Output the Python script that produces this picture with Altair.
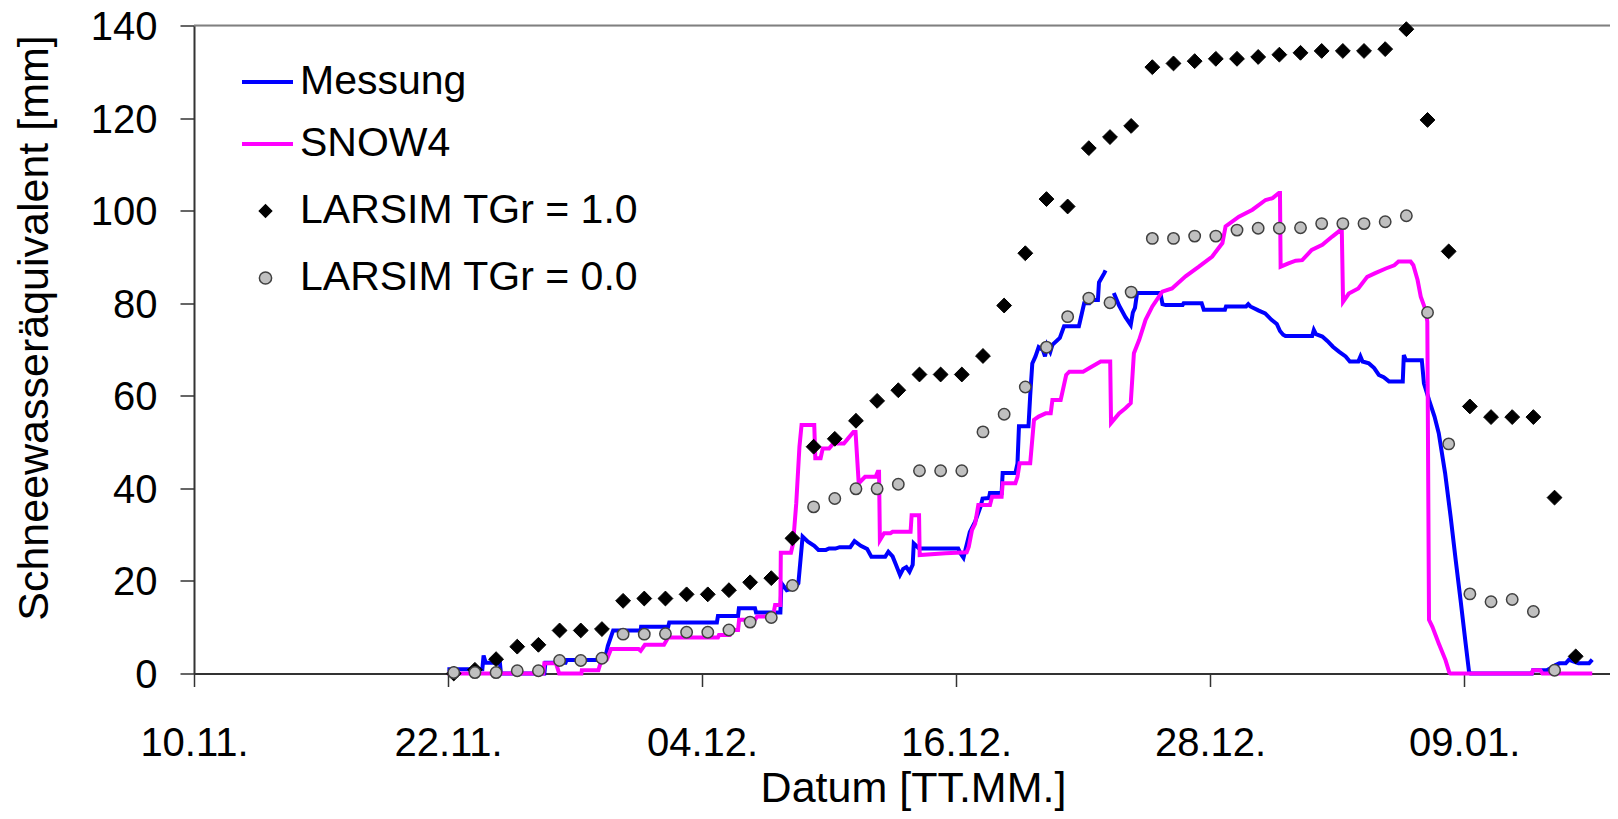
import altair as alt
import pandas as pd

BASE = pd.Timestamp("2002-11-10")

# LARSIM daily values (day index since 10.11.)
larsim10_days = list(range(12, 66))
larsim10_swe = [0.0, 0.8, 3.1, 5.8, 6.2, 9.3, 9.3, 9.6, 15.7, 16.2, 16.2, 17.1, 17.1, 18.0,
                19.7, 20.6, 29.2, 49.0, 50.7, 54.6, 58.9, 61.2, 64.6, 64.6, 64.6, 68.6, 79.5,
                90.8, 102.5, 100.9, 113.5, 115.9, 118.3, 131.0, 131.8, 132.3, 132.8, 132.8,
                133.2, 133.7, 134.1, 134.5, 134.5, 134.5, 134.9, 139.2, 119.6, 91.2, 57.7,
                55.4, 55.4, 55.4, 38.0, 3.7]
larsim00_days = list(range(12, 65))
larsim00_swe = [0.2, 0.2, 0.2, 0.6, 0.6, 2.8, 2.8, 3.3, 8.5, 8.5, 8.6, 8.9, 8.9, 9.4, 11.1,
                12.1, 19.0, 36.0, 37.8, 39.9, 39.9, 40.9, 43.8, 43.8, 43.8, 52.2, 56.0, 61.9,
                70.5, 77.1, 81.1, 80.1, 82.4, 94.0, 94.0, 94.5, 94.5, 95.8, 96.2, 96.2, 96.3,
                97.2, 97.2, 97.2, 97.6, 98.9, 78.0, 49.6, 17.2, 15.5, 16.0, 13.4, 0.7]
LARSIM_HOUR = 0.27

# Messung (two pieces, gap around 23.12.)
messung_a = [(11.97, 0.9), (13.62, 0.9), (13.68, 3.9), (13.78, 2.3), (14.45, 2.3), (14.5, 0.0),
             (16.55, 0.0), (16.6, 2.3), (17.55, 2.3), (17.6, 2.9), (19.4, 2.9), (19.55, 6.0),
             (19.8, 9.3), (21.1, 9.3), (21.12, 10.1), (22.4, 10.1), (22.45, 11.0), (24.7, 11.0),
             (24.75, 12.4), (25.7, 12.4), (25.74, 14.1), (26.5, 14.1), (26.55, 13.2), (27.7, 13.2),
             (27.75, 19.5), (28.0, 18.0), (28.4, 18.5), (28.55, 19.5), (28.75, 29.6), (29.0, 28.5),
             (29.3, 27.6), (29.5, 26.7), (29.85, 26.7), (30.0, 27.0), (30.3, 27.0), (30.5, 27.3),
             (31.0, 27.3), (31.2, 28.6), (31.5, 27.6), (31.8, 26.9), (32.0, 25.2), (32.65, 25.2),
             (32.8, 26.3), (33.0, 25.3), (33.15, 23.6), (33.35, 21.3), (33.5, 22.6), (33.65, 23.0),
             (33.8, 22.0), (33.95, 23.5), (34.0, 28.1), (34.25, 27.0), (36.1, 27.0), (36.2, 26.0),
             (36.35, 25.0), (36.45, 26.9), (36.65, 30.6), (36.9, 32.8), (37.15, 36.0), (37.25, 37.8),
             (37.55, 37.9), (37.6, 39.0), (38.15, 39.0), (38.2, 43.3), (38.8, 43.3), (38.9, 45.4),
             (38.97, 53.4), (39.42, 53.4), (39.5, 60.0), (39.6, 67.0), (39.75, 68.5), (39.9, 70.5),
             (40.1, 69.9), (40.2, 68.5), (40.3, 70.9), (40.45, 69.5), (40.55, 71.0), (40.9, 72.5),
             (41.1, 75.0), (41.8, 75.0), (41.95, 78.0), (42.05, 80.0), (42.3, 80.0), (42.4, 80.7),
             (42.7, 80.7), (42.75, 84.5), (43.0, 86.5), (43.06, 87.1)]
messung_b = [(43.45, 82.2), (43.7, 79.5), (44.0, 77.0), (44.25, 75.3), (44.35, 78.0), (44.45, 79.0),
             (44.55, 82.2), (45.65, 82.2), (45.75, 79.8), (45.9, 79.6), (46.7, 79.6), (46.75, 80.0),
             (47.6, 80.0), (47.7, 78.6), (48.7, 78.6), (48.75, 79.3), (49.7, 79.3), (49.8, 79.8),
             (49.9, 79.3), (50.3, 78.4), (50.6, 77.8), (50.9, 76.4), (51.15, 75.5), (51.3, 74.0),
             (51.45, 73.2), (51.56, 72.9), (52.82, 72.9), (52.9, 74.2), (53.0, 73.3), (53.3, 72.8),
             (53.55, 71.8), (53.8, 70.6), (54.1, 69.5), (54.4, 68.5), (54.6, 67.4), (55.0, 67.4),
             (55.1, 68.5), (55.2, 67.4), (55.5, 67.0), (55.75, 66.0), (55.97, 64.5), (56.2, 64.0),
             (56.45, 63.1), (57.1, 63.1), (57.15, 68.8), (57.25, 67.7), (58.0, 67.7), (58.1, 62.7),
             (58.34, 59.1), (58.6, 55.5), (58.8, 51.9), (59.1, 43.3), (59.36, 33.9), (59.6, 24.5),
             (59.83, 15.9), (60.07, 6.5), (60.23, 0.4), (60.3, 0.0), (63.2, 0.0), (63.25, 0.7),
             (63.9, 0.7), (64.1, 1.2), (64.3, 1.8), (64.5, 2.2), (64.8, 2.2), (64.95, 3.0),
             (65.15, 2.6), (65.4, 2.2), (65.9, 2.2), (66.05, 3.0)]

snow4 = [(11.97, 0.0), (16.5, 0.0), (16.55, 2.2), (17.1, 2.2), (17.25, 0.0), (18.3, 0.0), (18.32, 0.7),
         (19.1, 0.7), (19.2, 2.2), (19.5, 3.0), (19.7, 5.3), (21.0, 5.3), (21.1, 4.9), (21.3, 6.2),
         (22.2, 6.2), (22.4, 7.8), (24.75, 7.8), (24.8, 8.3), (25.3, 8.3), (25.35, 9.4), (25.7, 9.4),
         (25.75, 11.6), (26.5, 11.6), (26.6, 12.3), (27.35, 12.3), (27.45, 14.8), (27.7, 14.8),
         (27.72, 26.1), (28.2, 26.1), (28.3, 28.1), (28.45, 36.8), (28.6, 49.0), (28.7, 53.7),
         (29.3, 53.7), (29.35, 46.5), (29.6, 46.5), (29.7, 48.6), (30.0, 48.6), (30.2, 49.7),
         (30.7, 49.7), (30.9, 50.8), (31.15, 52.2), (31.25, 52.2), (31.4, 41.1), (31.7, 42.5),
         (32.2, 42.5), (32.3, 43.6), (32.36, 43.6), (32.4, 28.8), (32.6, 30.3), (32.9, 30.3),
         (33.0, 30.6), (33.85, 30.6), (33.9, 34.2), (34.25, 34.2), (34.28, 25.6), (35.5, 26.0),
         (36.5, 26.2), (36.6, 27.4), (36.75, 31.0), (36.9, 32.4), (37.05, 36.4), (37.6, 36.4),
         (37.7, 38.2), (38.15, 38.2), (38.2, 41.1), (38.8, 41.1), (38.9, 42.5), (39.0, 45.4),
         (39.5, 45.4), (39.68, 54.8), (39.9, 55.5), (40.23, 56.2), (40.47, 56.2), (40.55, 59.1),
         (40.94, 59.1), (41.2, 64.5), (41.35, 65.2), (42.0, 65.2), (42.3, 66.0), (42.83, 67.4),
         (43.28, 67.4), (43.32, 54.1), (43.7, 56.2), (44.0, 57.3), (44.25, 58.4), (44.4, 69.2),
         (44.65, 72.1), (44.95, 76.4), (45.27, 79.3), (45.74, 82.5), (46.2, 83.2), (46.84, 85.8),
         (47.47, 87.9), (48.1, 90.1), (48.58, 93.0), (48.73, 96.6), (49.36, 98.7), (50.0, 100.2),
         (50.62, 102.3), (50.95, 102.7), (51.25, 103.8), (51.3, 103.8), (51.33, 87.9), (51.7, 88.6),
         (52.04, 89.2), (52.35, 89.3), (52.8, 91.5), (53.3, 92.6), (53.77, 94.4), (54.16, 95.8),
         (54.22, 95.8), (54.28, 80.3), (54.55, 82.1), (55.0, 83.2), (55.42, 85.7), (55.8, 86.5),
         (56.3, 87.5), (56.7, 88.2), (56.9, 89.0), (57.47, 89.0), (57.6, 88.2), (57.8, 85.0),
         (57.95, 81.4), (58.18, 78.5), (58.26, 76.0), (58.34, 11.6), (58.5, 10.1), (58.8, 6.5),
         (59.12, 2.9), (59.3, 0.2), (59.35, 0.0), (63.2, 0.0), (63.25, 0.7), (63.6, 0.7),
         (63.7, 0.0), (66.05, 0.0)]

SERIES = ["Messung", "SNOW4"]
MODELS = ["LARSIM TGr = 1.0", "LARSIM TGr = 0.0"]
Y_TICKS = [0, 20, 40, 60, 80, 100, 120, 140]
FONT = "Liberation Sans"


def day_to_date(d):
    return BASE + pd.Timedelta(days=d)


rows = []
for name, seg, pts in [("Messung", "m1", messung_a), ("Messung", "m2", messung_b), ("SNOW4", "s", snow4)]:
    for i, (d, v) in enumerate(pts):
        rows.append({"series": name, "seg": seg, "idx": i, "date": day_to_date(d), "swe": v})
lines_df = pd.DataFrame(rows)

diam_df = pd.DataFrame({"model": MODELS[0],
                        "date": [day_to_date(d + LARSIM_HOUR) for d in larsim10_days],
                        "swe": larsim10_swe})
circ_df = pd.DataFrame({"model": MODELS[1],
                        "date": [day_to_date(d + LARSIM_HOUR) for d in larsim00_days],
                        "swe": larsim00_swe})

x_ticks = [alt.DateTime(year=2002, month=11, date=10), alt.DateTime(year=2002, month=11, date=22),
           alt.DateTime(year=2002, month=12, date=4), alt.DateTime(year=2002, month=12, date=16),
           alt.DateTime(year=2002, month=12, date=28), alt.DateTime(year=2003, month=1, date=9)]

x_enc = alt.X("date:T",
              scale=alt.Scale(domain=[alt.DateTime(year=2002, month=11, date=10),
                                      alt.DateTime(year=2003, month=1, date=15, hours=21, minutes=21)],
                              nice=False),
              axis=alt.Axis(values=x_ticks, format="%d.%m.", tickSize=13, tickWidth=1.5,
                            tickColor="#333333", domainColor="#333333", domainWidth=2,
                            labelFont=FONT, labelFontSize=40, labelColor="black", labelPadding=37,
                            labelFlush=False, labelOverlap=False, grid=False,
                            title="Datum [TT.MM.]", titleFont=FONT, titleFontSize=43,
                            titleFontWeight="normal", titleColor="black", titleX=719, titleY=128,
                            titleBaseline="alphabetic", titleAlign="center", titleAnchor="start"))
y_enc = alt.Y("swe:Q",
              scale=alt.Scale(domain=[0, 140], nice=False, zero=False),
              axis=alt.Axis(values=Y_TICKS, tickSize=14, tickWidth=1.5, tickColor="#333333",
                            domainColor="#333333", domainWidth=2, labelFont=FONT, labelFontSize=40,
                            labelColor="black", labelPadding=23, labelOffset=2, grid=False,
                            title="Schneewasseräquivalent [mm]", titleFont=FONT, titleFontSize=43,
                            titleFontWeight="normal", titleColor="black", titleAngle=270,
                            titleX=-147, titleY=302, titleBaseline="alphabetic", titleAlign="center",
                            titleAnchor="start"))

leg1 = alt.Legend(orient="none", legendX=46, legendY=29, title=None, symbolType="stroke",
                  symbolSize=2601, symbolStrokeWidth=4, labelFont=FONT, labelFontSize=41,
                  labelColor="black", labelOffset=5, rowPadding=14, padding=0, labelLimit=0)
leg2 = alt.Legend(orient="none", legendX=51, legendY=165, title=None, symbolSize=150,
                  symbolStrokeWidth=1.5, labelFont=FONT, labelFontSize=41, labelColor="black",
                  labelOffset=14, rowPadding=25, padding=0, labelLimit=0)

top_line = alt.Chart(pd.DataFrame({"v": [140]})).mark_rule(color="#808080", strokeWidth=2).encode(
    y=alt.Y("v:Q", scale=alt.Scale(domain=[0, 140], nice=False, zero=False)))

lines = alt.Chart(lines_df).mark_line(strokeWidth=4).encode(
    x=x_enc, y=y_enc,
    color=alt.Color("series:N", scale=alt.Scale(domain=SERIES, range=["#0000ff", "#ff00ff"]), legend=leg1),
    detail="seg:N",
    order="idx:Q")

shape_enc = alt.Shape("model:N", scale=alt.Scale(domain=MODELS, range=["diamond", "circle"]), legend=leg2)
fill_enc = alt.Fill("model:N", scale=alt.Scale(domain=MODELS, range=["#000000", "#c0c0c0"]), legend=leg2)
stroke_enc = alt.Stroke("model:N", scale=alt.Scale(domain=MODELS, range=["#000000", "#404040"]), legend=leg2)

diamonds = alt.Chart(diam_df).mark_point(filled=True, size=220, strokeWidth=1, opacity=1).encode(
    x=x_enc, y=y_enc, shape=shape_enc, fill=fill_enc, stroke=stroke_enc)
circles = alt.Chart(circ_df).mark_point(filled=True, size=130, strokeWidth=1.5, opacity=1).encode(
    x=x_enc, y=y_enc, shape=shape_enc, fill=fill_enc, stroke=stroke_enc)

chart = alt.layer(top_line, lines, diamonds, circles).properties(
    width=1416, height=648,
    autosize=alt.AutoSizeParams(type="none"),
    padding={"left": 186, "top": 17.5, "right": 0, "bottom": 137.5},
).configure_view(stroke=None).configure(font=FONT)

chart.save("out.html", embed_options={"renderer": "svg", "actions": False})
